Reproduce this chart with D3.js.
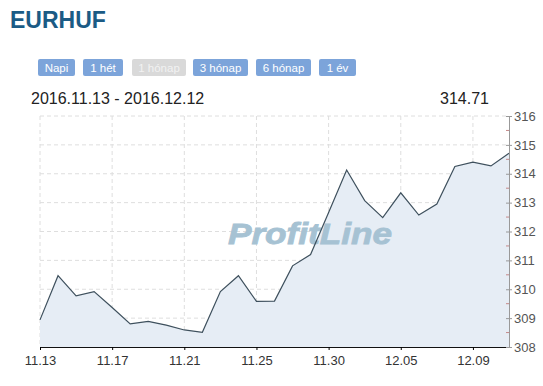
<!DOCTYPE html>
<html>
<head>
<meta charset="utf-8">
<script src="https://cdn.jsdelivr.net/npm/d3@7"></script>
<style>
  body { margin: 0; background: #fff; font-family: Arial, "Liberation Sans", sans-serif; }
</style>
</head>
<body>
<svg width="543" height="386"></svg>
<script>
// data
let dates = ["11.13","11.14","11.15","11.16","11.17","11.18","11.19","11.20","11.21","11.22",
             "11.23","11.24","11.25","11.27","11.28","11.29","11.30","12.01","12.02","12.04",
             "12.05","12.06","12.07","12.08","12.09","12.11","12.12"]
let rates = [308.94,310.47,309.77,309.92,309.37,308.80,308.89,308.76,308.59,308.51,
             309.92,310.47,309.58,309.59,310.81,311.20,312.66,314.13,313.07,312.48,
             313.34,312.57,312.95,314.25,314.40,314.27,314.71]
let buttons = ["Napi","1 hét","1 hónap","3 hónap","6 hónap","1 év"]
let yTicks = [308,309,310,311,312,313,314,315,316]
let range = "2016.11.13 - 2016.12.12"

let svg = d3.select("svg")

// title
svg.append("text")
   .attr("x", 10).attr("y", 28)
   .attr("font-size", 23).attr("font-weight", "bold")
   .attr("fill", "#1b5b85")
   .text("EURHUF")

// buttons
let btnX = [38, 83, 132, 193, 256, 319]
let btnW = [37, 40, 54, 55, 55, 37]
let bg = svg.selectAll("g.btn").data(buttons).join("g")
   .attr("transform", (d,i) => `translate(${btnX[i]},59)`)
bg.append("rect")
  .attr("width", (d,i) => btnW[i]).attr("height", 17).attr("rx", 2)
  .attr("fill", (d,i) => i == 2 ? "#d9d9d9" : "#7ca4da")
bg.append("text")
  .attr("x", (d,i) => btnW[i]/2).attr("y", 12.5)
  .attr("text-anchor", "middle").attr("font-size", 11.5)
  .attr("fill", (d,i) => i == 2 ? "#f2f2f2" : "#fff")
  .text(d => d)

// range + last value
svg.append("text").attr("x", 31).attr("y", 104)
   .attr("font-size", 16).attr("fill", "#222")
   .text(range)
svg.append("text").attr("x", 489).attr("y", 104)
   .attr("text-anchor", "end").attr("font-size", 16).attr("fill", "#222")
   .text(rates[rates.length-1].toFixed(2))

// scales
let x = d3.scaleLinear().domain([0, rates.length-1]).range([40, 509])
let y = d3.scaleLinear().domain([308, 316]).range([347, 116])

// grid
let grid = svg.append("g").attr("stroke", "#dedede").attr("stroke-dasharray", "4,3")
grid.selectAll("line.h").data(yTicks.slice(1)).join("line")
    .attr("x1", 40).attr("x2", 509)
    .attr("y1", d => y(d)).attr("y2", d => y(d))
let labelIdx = d3.range(0, rates.length, 4)
grid.selectAll("line.v").data(labelIdx).join("line")
    .attr("x1", d => x(d)).attr("x2", d => x(d))
    .attr("y1", 116).attr("y2", 347)

// area
svg.append("path").datum(rates)
   .attr("fill", "#e6edf5")
   .attr("d", d3.area().x((d,i) => x(i)).y0(347).y1(d => y(d)))

// watermark
svg.append("text").attr("x", 228).attr("y", 244)
   .attr("font-size", 30).attr("font-weight", "bold").attr("font-style", "italic")
   .attr("fill", "#a6c2d3").attr("stroke", "#a6c2d3").attr("stroke-width", 0.8)
   .attr("textLength", 164).attr("lengthAdjust", "spacingAndGlyphs")
   .text("ProfitLine")

// line
svg.append("path").datum(rates)
   .attr("fill", "none").attr("stroke", "#3e505d").attr("stroke-width", 1.2)
   .attr("d", d3.line().x((d,i) => x(i)).y(d => y(d)))

// x axis
let xAxis = svg.append("g").attr("transform", "translate(0,347)")
   .call(d3.axisBottom(x).tickValues(labelIdx).tickFormat(i => dates[i]).tickSize(3).tickSizeOuter(0))
xAxis.select(".domain").attr("stroke", "#111")
xAxis.selectAll("text").attr("font-size", 13).attr("fill", "#333").attr("dy", "0.9em")
     .attr("font-family", "Arial, 'Liberation Sans', sans-serif")

// y axis (right)
let yAxis = svg.append("g").attr("transform", "translate(509,0)")
   .call(d3.axisRight(y).tickValues(yTicks).tickSize(3).tickSizeOuter(0).tickPadding(2))
yAxis.select(".domain").attr("stroke", "#999")
yAxis.selectAll(".tick line").attr("stroke", "#999").attr("x1", -3)
yAxis.selectAll("text").attr("font-size", 13).attr("fill", "#555")
     .attr("font-family", "Arial, 'Liberation Sans', sans-serif")
svg.append("g").selectAll("line").data(yTicks.slice(0, -1).map(d => d + 0.5)).join("line")
   .attr("x1", 506).attr("x2", 509)
   .attr("y1", d => y(d)).attr("y2", d => y(d))
   .attr("stroke", "#c48888")
</script>
</body>
</html>
